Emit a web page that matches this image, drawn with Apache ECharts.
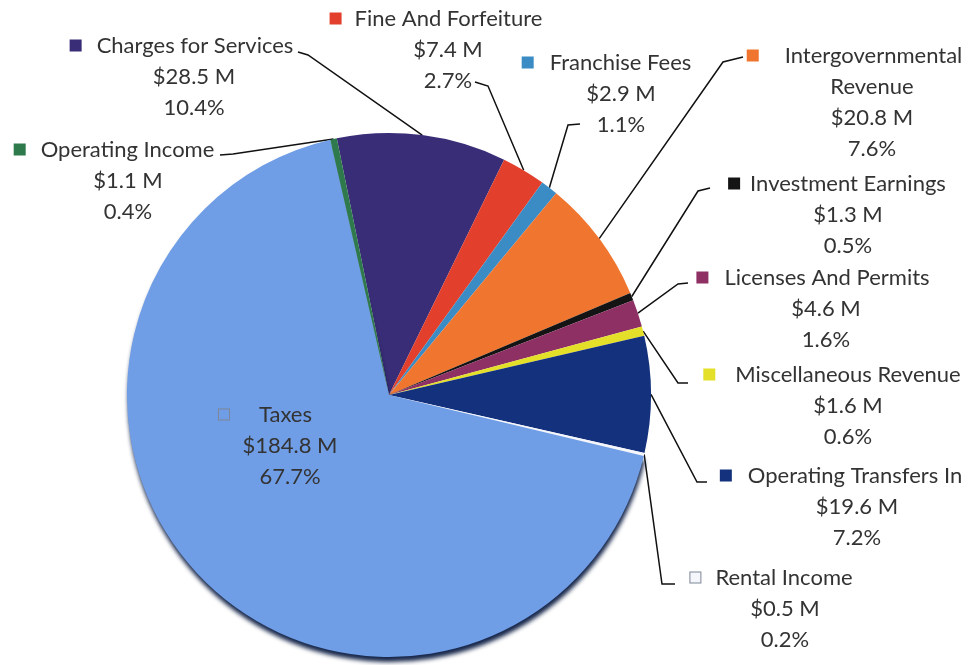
<!DOCTYPE html>
<html>
<head>
<meta charset="utf-8">
<script src="https://cdn.jsdelivr.net/npm/echarts@6/dist/echarts.min.js"></script>
<style>
  html, body { margin: 0; padding: 0; background: #fff; }
  #pie { width: 974px; height: 665px; }
</style>
</head>
<body>
<div id="pie"></div>
<script>
// slices in clockwise order, starting at the top
const categories = [
  "Charges for Services", "Fine And Forfeiture", "Franchise Fees",
  "Intergovernmental Revenue", "Investment Earnings", "Licenses And Permits",
  "Miscellaneous Revenue", "Operating Transfers In", "Rental Income",
  "Taxes", "Operating Income"
];
const amounts = [28.5, 7.4, 2.9, 20.8, 1.3, 4.6, 1.6, 19.6, 0.5, 184.8, 1.1]; // $ M
const percents = ["10.4", "2.7", "1.1", "7.6", "0.5", "1.6", "0.6", "7.2", "0.2", "67.7", "0.4"];

const colors = [
  "#3a2d77", "#e2402d", "#3b8cc4", "#f0752e", "#141414", "#8e3063",
  "#e4e02a", "#13317c", "#f4f6fb", "#6f9de6", "#2e7a4c"
];

// label block: [center x, top y]; gap after the key square; padding after the name
const labelPos = [
  [194, 30], [448, 3], [621, 47], [872, 40], [848, 168], [826, 262],
  [848, 359], [857, 460], [785, 562], [290, 399], [128, 134]
];
const labelGap = [16, 14, 17, 27, 11, 17, 21, 17, 15, 30, 16];
const labelPad = [24, 23, 28, 34, 21, 25, 31, 31, 27, 49, 27];
// leader line: [elbow x, elbow y, end x, end y]
const linePos = [
  [308, 55, 298, 52], [488, 86, 475, 82], [568, 125, 580, 124],
  [723, 62, 743, 57], [698, 191, 710, 188], [678, 284, 688, 283],
  [678, 383, 688, 383], [697, 482, 707, 482], [662, 584, 675, 584],
  null, [233, 154, 220, 155]
];

const textStyle = { fontFamily: "Lato", fontSize: 22, color: "#333", lineHeight: 31 };
const rich = { t: textStyle };
colors.forEach(function (c, i) {
  rich["sq" + i] = {
    width: 10, height: 10, backgroundColor: c,
    borderColor: i === 8 || i === 9 ? "#7d8796" : c, borderWidth: 1
  };
  rich["g" + i] = { width: labelGap[i] };
  rich["p" + i] = { width: labelPad[i] };
});

const chart = echarts.init(document.getElementById("pie"));
chart.setOption({
  animation: false,
  series: [
    {
      type: "pie",
      center: [389, 395],
      radius: 262,
      startAngle: 101.5,
      clockwise: true,
      avoidLabelOverlap: false,
      itemStyle: { borderWidth: 0 },
      emphasis: { disabled: true },
      label: {
        show: true,
        position: "outside",
        align: "center",
        verticalAlign: "top",
        fontFamily: "Lato",
        fontSize: 22,
        lineHeight: 31,
        color: "#333",
        rich: rich,
        formatter: function (p) {
          const i = p.dataIndex;
          let name = [p.name];
          if (p.name === "Intergovernmental Revenue") name = ["Intergovernmental", "Revenue"];
          const first = "{sq" + i + "|}{g" + i + "|}{t|" + name[0] + "}{p" + i + "|}";
          const rest = name.slice(1).concat(["$" + amounts[i].toFixed(1) + " M", percents[i] + "%"]);
          return [first].concat(rest.map(function (s) { return "{t|" + s + "}"; })).join("\n");
        }
      },
      labelLine: {
        show: true,
        lineStyle: { color: "#111", width: 1.5 }
      },
      labelLayout: function (params) {
        const i = params.dataIndex;
        const res = { x: labelPos[i][0], y: labelPos[i][1], align: "center", verticalAlign: "top" };
        const ln = linePos[i];
        if (ln && params.labelLinePoints) {
          res.labelLinePoints = [params.labelLinePoints[0], [ln[0], ln[1]], [ln[2], ln[3]]];
        }
        return res;
      },
      data: categories.map(function (c, i) {
        const item = { name: c, value: amounts[i], itemStyle: { color: colors[i] } };
        if (c === "Taxes") {
          item.labelLine = { show: false };
          item.itemStyle.shadowColor = "rgba(12, 28, 66, 0.95)";
          item.itemStyle.shadowBlur = 4;
          item.itemStyle.shadowOffsetY = 5;
          item.itemStyle.shadowOffsetX = 1;
        }
        return item;
      })
    }
  ]
});
</script>
</body>
</html>
